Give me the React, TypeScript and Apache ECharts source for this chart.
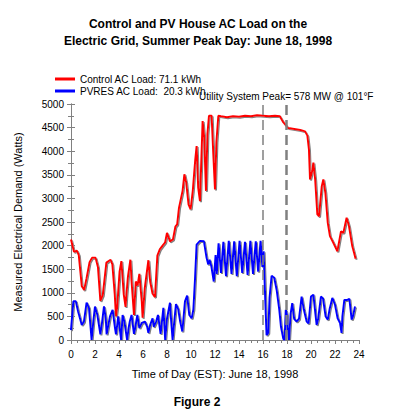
import React, { useEffect, useRef } from "react";
import * as echarts from "echarts";

const titleLines = ["Control and PV House AC Load on the", "Electric Grid, Summer Peak Day: June 18, 1998"];
const controlName = "Control AC Load: 71.1 kWh";
const pvresName = "PVRES AC Load:  20.3 kWh";
const peakNote = "Utility System Peak= 578 MW @ 101°F";
const xName = "Time of Day (EST): June 18, 1998";
const yName = "Measured Electrical Demand (Watts)";
const figureLabel = "Figure 2";
const peakWindow = [16, 17.9];

// [hour, watts]
const controlLoad = [
  [0, 2130], [0.25, 1870], [0.5, 1890], [0.65, 1800], [0.9, 1140], [1.1, 1060], [1.3, 1310], [1.55, 1650],
  [1.75, 1740], [2.05, 1740], [2.25, 1540], [2.45, 830], [2.65, 950], [2.95, 1640], [3.3, 1700], [3.45, 1600],
  [3.65, 960], [3.75, 500], [3.85, 700], [4.05, 1450], [4.2, 1670], [4.4, 960], [4.55, 700], [4.6, 900],
  [4.75, 1350], [4.95, 1700], [5.05, 1240], [5.25, 530], [5.4, 1240], [5.55, 1150], [5.7, 1400], [5.9, 815],
  [5.97, 470], [6.15, 1100], [6.45, 1690], [6.6, 1240], [6.8, 980], [7.0, 910], [7.2, 1790], [7.4, 1920],
  [7.6, 1990], [7.85, 2070], [8.0, 2270], [8.25, 2090], [8.5, 2130], [8.7, 2400], [8.85, 2450], [9.0, 2800],
  [9.3, 3160], [9.45, 3510], [9.6, 3340], [9.8, 2870], [9.97, 2770], [10.15, 3160], [10.35, 3800], [10.47, 4110],
  [10.6, 3230], [10.75, 2940], [10.97, 4640], [11.1, 4300], [11.25, 3160], [11.37, 4360], [11.5, 4750], [11.72, 4750],
  [11.86, 3940], [12.0, 3190], [12.12, 4200], [12.28, 4750], [12.5, 4740], [13.0, 4720], [13.5, 4740], [14.0, 4730],
  [14.5, 4750], [15.0, 4740], [15.5, 4760], [16.0, 4750], [16.5, 4740], [17.0, 4750], [17.4, 4740], [17.7, 4610],
  [18.1, 4490], [18.6, 4470], [19.1, 4450], [19.5, 4420], [19.7, 4330], [19.83, 4040], [19.92, 3400], [20.1, 3580],
  [20.2, 3760], [20.35, 3400], [20.53, 2660], [20.67, 2620], [20.9, 3260], [21.03, 3400], [21.2, 3120], [21.4, 2480],
  [21.58, 2200], [21.86, 2060], [22.2, 1880], [22.5, 2300], [22.7, 2270], [22.97, 2590], [23.17, 2410], [23.44, 1990],
  [23.72, 1720],
];

const pvresLoad = [
  [0, 210], [0.2, 820], [0.4, 820], [0.6, 600], [0.9, 320], [1.08, 390], [1.3, 790], [1.5, 680],
  [1.72, 0], [1.86, 390], [2.0, 710], [2.2, 530], [2.45, 120], [2.6, 390], [2.75, 710], [2.9, 460],
  [2.97, 120], [3.25, 500], [3.47, 640], [3.67, 250], [3.75, 120], [3.94, 500], [4.08, 210], [4.18, 0],
  [4.3, 530], [4.45, 390], [4.68, 0], [4.8, 250], [4.9, 390], [5.05, 530], [5.25, 130], [5.35, 250],
  [5.53, 530], [5.7, 250], [5.9, 360], [6.17, 390], [6.35, 280], [6.45, 150], [6.6, 320], [6.8, 460],
  [6.9, 280], [7.1, 390], [7.25, 530], [7.47, 130], [7.7, 680], [7.85, 0], [8.0, 450], [8.25, 790],
  [8.35, 400], [8.47, 0], [8.58, 320], [8.75, 760], [8.94, 650], [9.1, 390], [9.28, 180], [9.5, 820],
  [9.68, 940], [9.86, 530], [10.06, 460], [10.2, 650], [10.33, 1260], [10.47, 2020], [10.75, 2100], [11.08, 2090],
  [11.3, 1740], [11.44, 1600], [11.55, 1700], [11.7, 1560], [11.9, 1240], [12.05, 1800], [12.15, 1400], [12.3, 2050],
  [12.5, 1420], [12.7, 2080], [12.92, 1350], [13.15, 2100], [13.38, 1400], [13.6, 2090], [13.82, 1350], [14.05, 2100],
  [14.27, 1420], [14.5, 2080], [14.72, 1380], [14.95, 2100], [15.17, 1400], [15.4, 2090], [15.6, 1450], [15.8, 2100],
  [15.95, 1550], [16.05, 1880], [16.2, 780], [16.3, 100], [16.44, 150], [16.55, 900], [16.72, 1360], [16.94, 1320],
  [17.14, 1060], [17.36, 640], [17.5, 280], [17.7, 20], [17.8, 0], [17.9, 640], [18.0, 530], [18.05, 280],
  [18.17, 0], [18.3, 550], [18.44, 780], [18.6, 450], [18.8, 390], [19.0, 450], [19.22, 920], [19.4, 650],
  [19.64, 390], [19.8, 350], [20.0, 920], [20.2, 960], [20.35, 600], [20.47, 320], [20.6, 450], [20.83, 920],
  [21.0, 880], [21.22, 500], [21.4, 430], [21.55, 650], [21.78, 890], [22.0, 750], [22.22, 460], [22.42, 360],
  [22.55, 150], [22.62, 500], [22.78, 850], [23.03, 850], [23.2, 870], [23.39, 430], [23.5, 500], [23.67, 710],
];

const FONT = "'Liberation Sans', Arial, sans-serif";
const GRAY = "#808080";

export default function App() {
  const ref = useRef<HTMLDivElement>(null);
  useEffect(() => {
    if (!ref.current) return;
    const chart = echarts.init(ref.current, null, { renderer: "svg" });
    const shadow = { shadowColor: GRAY, shadowOffsetX: 1, shadowOffsetY: 1, shadowBlur: 0 };
    chart.setOption({
      animation: false,
      backgroundColor: "#ffffff",
      textStyle: { fontFamily: FONT },
      title: {
        text: titleLines.join("\n"),
        left: "center",
        top: 10,
        textStyle: { fontFamily: FONT, fontSize: 12, fontWeight: "bold", color: "#000", lineHeight: 17 },
      },
      legend: {
        orient: "vertical",
        left: 55,
        top: 73,
        padding: 0,
        itemGap: 0,
        itemWidth: 20,
        itemHeight: 3,
        icon: "rect",
        textStyle: { fontFamily: FONT, fontSize: 10, color: "#000", lineHeight: 12, padding: [0, 0, 0, 0] },
        data: [controlName, pvresName],
      },
      grid: { left: 71, right: 37, top: 104, bottom: 74 },
      xAxis: [
        {
          type: "value",
          min: 0,
          max: 24,
          interval: 2,
          axisLine: { show: true, onZero: false, lineStyle: { color: GRAY } },
          axisTick: { show: true, length: 4, lineStyle: { color: GRAY } },
          minorTick: { show: true, splitNumber: 4, length: 3, lineStyle: { color: GRAY } },
          axisLabel: { fontFamily: FONT, fontSize: 10, color: "#000", margin: 9 },
          splitLine: { show: false },
        },
        {
          type: "value",
          position: "top",
          min: 0,
          max: 24,
          interval: 2,
          axisLine: { show: true, lineStyle: { color: GRAY } },
          axisTick: { show: false },
          axisLabel: { show: false },
          splitLine: { show: false },
        },
      ],
      yAxis: [
        {
          type: "value",
          min: 0,
          max: 5000,
          interval: 500,
          axisLine: { show: true, lineStyle: { color: GRAY } },
          axisTick: { show: true, length: 4, lineStyle: { color: GRAY } },
          minorTick: { show: true, splitNumber: 2, length: 3, lineStyle: { color: GRAY } },
          axisLabel: { fontFamily: FONT, fontSize: 10, color: "#000", margin: 7, formatter: (v: number) => String(v) },
          splitLine: { show: false },
        },
        {
          type: "value",
          position: "right",
          min: 0,
          max: 5000,
          interval: 500,
          axisLine: { show: true, lineStyle: { color: GRAY } },
          axisTick: { show: true, length: 4, lineStyle: { color: GRAY } },
          minorTick: { show: true, splitNumber: 2, length: 3, lineStyle: { color: GRAY } },
          axisLabel: { show: false },
          splitLine: { show: false },
        },
      ],
      series: [
        {
          name: controlName,
          type: "line",
          data: controlLoad,
          showSymbol: false,
          color: "#ff0000",
          lineStyle: { color: "#ff0000", width: 2, ...shadow },
          z: 3,
          markLine: {
            silent: true,
            symbol: "none",
            label: { show: false },
            data: [
              { xAxis: peakWindow[0], lineStyle: { color: GRAY, width: 1.5, type: [10, 5] } },
              { xAxis: peakWindow[1], lineStyle: { color: GRAY, width: 2.5, type: [10, 5] } },
            ],
          },
        },
        {
          name: pvresName,
          type: "line",
          data: pvresLoad,
          showSymbol: false,
          color: "#0000ff",
          lineStyle: { color: "#0000ff", width: 2, ...shadow },
          z: 3,
        },
      ],
      graphic: [
        {
          type: "text",
          left: 199,
          top: 91,
          style: { text: peakNote, fontFamily: FONT, fontSize: 10, fill: "#000" },
        },
        {
          type: "text",
          x: 18,
          y: 222,
          rotation: Math.PI / 2,
          style: { text: yName, fontFamily: FONT, fontSize: 11, fill: "#000", align: "center", verticalAlign: "middle" },
        },
        {
          type: "text",
          x: 215,
          y: 374,
          style: { text: xName, fontFamily: FONT, fontSize: 11, fill: "#000", align: "center", verticalAlign: "middle" },
        },
        {
          type: "text",
          x: 197,
          y: 402,
          style: { text: figureLabel, fontFamily: FONT, fontSize: 12, fontWeight: "bold", fill: "#000", align: "center", verticalAlign: "middle" },
        },
      ],
    });
    return () => chart.dispose();
  }, []);
  return <div ref={ref} style={{ width: 396, height: 414, position: "absolute", left: 0, top: 0 }} />;
}
